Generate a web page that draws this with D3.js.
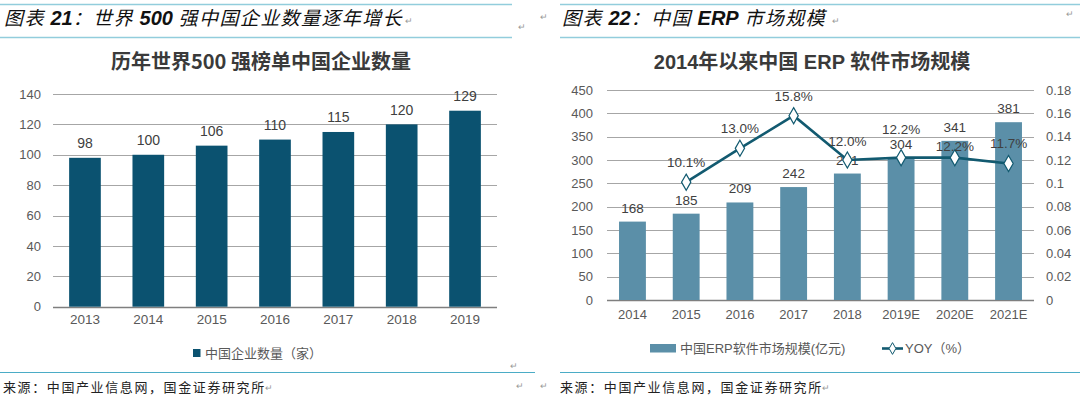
<!DOCTYPE html>
<html><head><meta charset="utf-8">
<script src="https://cdn.jsdelivr.net/npm/d3@7"></script>
<style>
html,body{margin:0;padding:0;background:#fff;}
svg{display:block;}
</style></head>
<body>
<svg id="c" width="1080" height="396"></svg>
<script>
// ---- Data ----
const leftYears = ["2013","2014","2015","2016","2017","2018","2019"];
const leftCounts = [98,100,106,110,115,120,129];
const leftTicks = [0,20,40,60,80,100,120,140];

const rightYears = ["2014","2015","2016","2017","2018","2019E","2020E","2021E"];
const rightMarket = [168,185,209,242,271,304,341,381];
const rightYoy = [null,0.101,0.130,0.158,0.120,0.122,0.122,0.117];
const rightYoyLabels = ["","10.1%","13.0%","15.8%","12.0%","12.2%","12.2%","11.7%"];
const rightLeftTicks = [0,50,100,150,200,250,300,350,400,450];
const rightRightTicks = [0,0.02,0.04,0.06,0.08,0.10,0.12,0.14,0.16,0.18];

const texts = {
  headL: ["图表 ", "21", "：世界 ", "500", " 强中国企业数量逐年增长"],
  headR: ["图表 ", "22", "：中国 ", "ERP", " 市场规模"],
  titleL: "历年世界500 强榜单中国企业数量",
  titleR: "2014年以来中国 ERP 软件市场规模",
  legendL: "中国企业数量（家）",
  legendR1: "中国ERP软件市场规模(亿元)",
  legendR2: "YOY（%）",
  source: "来源：中国产业信息网，国金证券研究所"
};

// ---- Drawing ----
const svg = d3.select("#c");
const FONT = "'Liberation Sans', Arial, 'Noto Sans CJK SC', sans-serif";
const CJK = "'Noto Sans CJK SC', 'Liberation Sans', sans-serif";
const gridCol = "#a6a6a6", txtCol = "#595959", lblCol = "#404040";

// header rules
const hdrCol = "#92cddc", srcCol = "#4bacc6";
[[0,512],[560,1080]].forEach(([a,b])=>{
  svg.append("line").attr("x1",a).attr("x2",b).attr("y1",4.5).attr("y2",4.5).attr("stroke",hdrCol).attr("stroke-width",1.5);
  svg.append("line").attr("x1",a).attr("x2",b).attr("y1",37.5).attr("y2",37.5).attr("stroke",hdrCol).attr("stroke-width",1.5);
});
[[0,535],[560,1080]].forEach(([a,b])=>{
  svg.append("line").attr("x1",a).attr("x2",b).attr("y1",372.5).attr("y2",372.5).attr("stroke",srcCol).attr("stroke-width",1);
});

function header(x, parts){
  const t = svg.append("text").attr("x",x).attr("y",25).attr("font-size",19).attr("fill","#111")
    .attr("font-style","italic").attr("font-family",CJK);
  parts.forEach((p,i)=>{
    const s = t.append("tspan").text(p);
    if(i%2===1){ s.attr("font-family","'Liberation Sans', Arial, sans-serif").attr("font-weight","bold").attr("font-size",20); }
    else s.attr("letter-spacing",1.4);
  });
}
header(4, texts.headL);
header(562, texts.headR);

// source lines
[3,560].forEach(x=>{
  svg.append("text").attr("x",x).attr("y",392).attr("font-size",13).attr("letter-spacing",1.6)
    .attr("font-family",CJK).attr("fill","#222").text(texts.source);
});
// paragraph marks
const marks = [[405,24],[518,30],[832,24],[510,369],[516,389],[265,391],[540,20],[1066,17],[540,389],[822,391]];
marks.forEach(([x,y])=>svg.append("text").attr("x",x).attr("y",y).attr("font-size",9).attr("fill","#999").attr("font-family",FONT).text("↵"));

// ===== Left chart =====
(function(){
  const x = d3.scaleBand().domain(leftYears).range([53.3,496.7]).paddingInner(0.5).paddingOuter(0.25);
  const y = d3.scaleLinear().domain([0,140]).range([306.7,94]);
  const g = svg.append("g");
  g.append("text").attr("x",261).attr("y",69).attr("text-anchor","middle").attr("font-size",20)
    .attr("font-weight","bold").attr("font-family",CJK).attr("fill","#3a3a3a").text(texts.titleL);
  // grid
  g.selectAll(".gl").data(leftTicks).join("line")
    .attr("x1",53).attr("x2",497).attr("y1",d=>Math.round(y(d))+0.5).attr("y2",d=>Math.round(y(d))+0.5)
    .attr("stroke",d=>d===0?"#7f7f7f":gridCol).attr("stroke-width",d=>d===0?1.3:1);
  // y axis labels
  const ya = g.append("g").attr("transform","translate(41,0)")
    .call(d3.axisLeft(y).tickValues(leftTicks).tickSize(0).tickPadding(0));
  ya.select(".domain").remove();
  ya.selectAll("text").attr("font-size",13).attr("font-family",FONT).attr("fill",txtCol);
  // bars
  g.selectAll(".bar").data(leftCounts).join("rect")
    .attr("x",(d,i)=>x(leftYears[i])).attr("width",x.bandwidth())
    .attr("y",d=>y(d)).attr("height",d=>y(0)-y(d)).attr("fill","#0b5270");
  g.selectAll(".bl").data(leftCounts).join("text")
    .attr("x",(d,i)=>x(leftYears[i])+x.bandwidth()/2).attr("y",d=>y(d)-9.5)
    .attr("text-anchor","middle").attr("font-size",14).attr("font-family",FONT).attr("fill",lblCol).text(d=>d);
  // x axis labels
  const xa = g.append("g").attr("transform","translate(0,310)")
    .call(d3.axisBottom(x).tickSize(0).tickPadding(0));
  xa.select(".domain").remove();
  xa.selectAll("text").attr("font-size",13.5).attr("font-family",FONT).attr("fill",txtCol).attr("dy","1.05em");
  // legend
  g.append("rect").attr("x",193).attr("y",349).attr("width",7.5).attr("height",8).attr("fill","#0b5270");
  g.append("text").attr("x",205).attr("y",358).attr("font-size",13).attr("font-family",CJK).attr("fill",txtCol).text(texts.legendL);
})();

// ===== Right chart =====
(function(){
  const x = d3.scaleBand().domain(rightYears).range([605.6,1035.4]).paddingInner(0.5).paddingOuter(0.25);
  const yL = d3.scaleLinear().domain([0,450]).range([300,90]);
  const yR = d3.scaleLinear().domain([0,0.18]).range([300,90]);
  const g = svg.append("g");
  g.append("text").attr("x",812).attr("y",69).attr("text-anchor","middle").attr("font-size",20)
    .attr("font-weight","bold").attr("font-family",FONT).attr("fill","#3a3a3a").text(texts.titleR);
  g.selectAll(".gl").data(rightLeftTicks).join("line")
    .attr("x1",607).attr("x2",1034).attr("y1",d=>Math.round(yL(d))+0.5).attr("y2",d=>Math.round(yL(d))+0.5)
    .attr("stroke",d=>d===0?"#7f7f7f":gridCol).attr("stroke-width",d=>d===0?1.3:1);
  const ya = g.append("g").attr("transform","translate(593,0)")
    .call(d3.axisLeft(yL).tickValues(rightLeftTicks).tickSize(0).tickPadding(0));
  ya.select(".domain").remove();
  ya.selectAll("text").attr("font-size",13).attr("font-family",FONT).attr("fill",txtCol);
  const yr = g.append("g").attr("transform","translate(1046,0)")
    .call(d3.axisRight(yR).tickValues(rightRightTicks).tickSize(0).tickPadding(0).tickFormat(d3.format("~g")));
  yr.select(".domain").remove();
  yr.selectAll("text").attr("font-size",13).attr("font-family",FONT).attr("fill",txtCol);
  // bars
  const barCol = "#5b8fa8";
  g.selectAll(".bar").data(rightMarket).join("rect")
    .attr("x",(d,i)=>x(rightYears[i])).attr("width",x.bandwidth())
    .attr("y",d=>yL(d)).attr("height",d=>yL(0)-yL(d)).attr("fill",barCol);
  g.selectAll(".bl").data(rightMarket).join("text")
    .attr("x",(d,i)=>x(rightYears[i])+x.bandwidth()/2).attr("y",d=>yL(d)-9)
    .attr("text-anchor","middle").attr("font-size",13.5).attr("font-family",FONT).attr("fill",lblCol).text(d=>d);
  // line
  const lineCol = "#125a70";
  const pts = rightYoy.map((v,i)=>({v,i})).filter(d=>d.v!=null);
  const line = d3.line().x(d=>x(rightYears[d.i])+x.bandwidth()/2).y(d=>yR(d.v));
  g.append("path").datum(pts).attr("d",line).attr("fill","none").attr("stroke",lineCol).attr("stroke-width",2.6);
  g.selectAll(".mk").data(pts).join("path")
    .attr("d",d3.symbol(d3.symbolDiamond,75))
    .attr("transform",d=>`translate(${x(rightYears[d.i])+x.bandwidth()/2},${yR(d.v)})`)
    .attr("fill","#fff").attr("stroke",lineCol).attr("stroke-width",1.2);
  const lblDy = [0,-20,-20,-20,-19,-29,-12,-21];
  g.selectAll(".yl").data(pts).join("text")
    .attr("x",d=>x(rightYears[d.i])+x.bandwidth()/2).attr("y",d=>yR(d.v)+lblDy[d.i]+5)
    .attr("text-anchor","middle").attr("font-size",13.5).attr("font-family",FONT).attr("fill",lblCol)
    .text(d=>rightYoyLabels[d.i]);
  const xa = g.append("g").attr("transform","translate(0,305)")
    .call(d3.axisBottom(x).tickSize(0).tickPadding(0));
  xa.select(".domain").remove();
  xa.selectAll("text").attr("font-size",13).attr("font-family",FONT).attr("fill",txtCol).attr("dy","1.05em");
  // legend
  g.append("rect").attr("x",650).attr("y",344).attr("width",26).attr("height",8.5).attr("fill",barCol);
  g.append("text").attr("x",680).attr("y",353).attr("font-size",13).attr("font-family",FONT).attr("fill",txtCol).text(texts.legendR1);
  g.append("line").attr("x1",882).attr("x2",903).attr("y1",348.5).attr("y2",348.5).attr("stroke",lineCol).attr("stroke-width",2.6);
  g.append("path").attr("d",d3.symbol(d3.symbolDiamond,40)).attr("transform","translate(892.5,348.5)")
    .attr("fill","#fff").attr("stroke",lineCol).attr("stroke-width",1);
  g.append("text").attr("x",905).attr("y",353).attr("font-size",13).attr("font-family",FONT).attr("fill",txtCol).text(texts.legendR2);
})();
</script>
</body></html>
